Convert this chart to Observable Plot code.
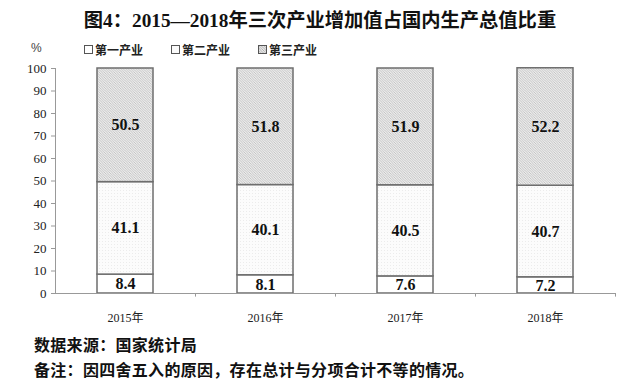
<!DOCTYPE html>
<html>
<head>
<meta charset="utf-8">
<script src="https://cdn.jsdelivr.net/npm/d3@7"></script>
<script src="https://cdn.jsdelivr.net/npm/@observablehq/plot@0.6"></script>
<style>
  html, body { margin: 0; padding: 0; background: #fff; width: 626px; height: 391px; overflow: hidden; }
  #title { height: 40px; line-height: 42px; text-align: center; font-family: "Liberation Serif", "Noto Sans CJK SC", serif; font-weight: bold; font-size: 19.3px; color: #111; padding-left: 14px; }
  #legend { position: relative; height: 18px; font-family: "Noto Sans CJK SC", sans-serif; font-size: 12px; color: #222; }
  #legend .pct { position: absolute; left: 31px; top: 1px; font-family: "Liberation Sans", sans-serif; color: #444; }
  #legend .item { position: absolute; top: 1px; display: flex; align-items: center; font-weight: bold; }
  #caption { margin-top: 4px; padding-left: 34px; font-family: "Noto Sans CJK SC", sans-serif; font-weight: bold; font-size: 16px; letter-spacing: 0.3px; line-height: 25px; color: #111; }
  svg [aria-label="y-axis tick"], svg [aria-label="x-axis tick"] { stroke: #999; }
</style>
</head>
<body>
<div id="title"></div>
<div id="legend"></div>
<div id="chart"></div>
<div id="caption"></div>
<script>
const titleText = "图4：2015—2018年三次产业增加值占国内生产总值比重";
const unitLabel = "%";
const years = ["2015年", "2016年", "2017年", "2018年"];
const sectors = ["第一产业", "第二产业", "第三产业"];
const primary = [8.4, 8.1, 7.6, 7.2];
const secondary = [41.1, 40.1, 40.5, 40.7];
const tertiary = [50.5, 51.8, 51.9, 52.2];
const yTicks = [0, 10, 20, 30, 40, 50, 60, 70, 80, 90, 100];
const captionLines = ["数据来源：国家统计局", "备注：因四舍五入的原因，存在总计与分项合计不等的情况。"];

const fills = {"第一产业": "#ffffff", "第二产业": "url(#dots)", "第三产业": "url(#hatch)"};
const seriesValues = [primary, secondary, tertiary];
const data = years.flatMap((year, i) => sectors.map((sector, j) => ({year, sector, value: seriesValues[j][i]})));

document.getElementById("title").textContent = titleText;

const legend = document.getElementById("legend");
const pct = document.createElement("span");
pct.className = "pct"; pct.textContent = unitLabel;
legend.appendChild(pct);
const legendX = [84, 171, 258];
sectors.forEach((s, j) => {
  const it = document.createElement("span");
  it.className = "item";
  it.style.left = legendX[j] + "px";
  const sw = document.createElementNS("http://www.w3.org/2000/svg", "svg");
  sw.setAttribute("width", 9); sw.setAttribute("height", 9);
  sw.style.marginRight = "2px";
  sw.innerHTML = `<defs><pattern id="lh${j}" patternUnits="userSpaceOnUse" width="2.5" height="2.5"><rect width="3" height="3" fill="#eaeaea"/><path d="M-1,-1L3.5,3.5" stroke="#9a9a9a" stroke-width="0.7"/></pattern></defs><rect x="0.5" y="0.5" width="8" height="8" fill="${j === 2 ? `url(#lh${j})` : (j === 1 ? "#fafafa" : "#fff")}" stroke="#555"/>`;
  it.appendChild(sw);
  const t = document.createElement("span");
  t.textContent = s;
  it.appendChild(t);
  legend.appendChild(it);
});

const plot = Plot.plot({
  width: 626,
  height: 270,
  marginTop: 10,
  marginBottom: 35,
  marginLeft: 55,
  marginRight: 11,
  style: {fontFamily: "'Liberation Serif', 'Noto Sans CJK SC', serif", fontSize: "13px", color: "#222", background: "white", overflow: "visible"},
  x: {domain: years, paddingInner: 0.6, paddingOuter: 0.3, label: null},
  y: {domain: [0, 100], ticks: yTicks, label: null},
  color: {type: "identity"},
  marks: [
    Plot.barY(data, Plot.stackY({x: "year", y: "value", fill: d => fills[d.sector], stroke: "#6e6e6e", strokeWidth: 1.5})),
    Plot.text(data, Plot.stackY({x: "year", y: "value", text: d => d.value.toFixed(1), fontWeight: "bold", fontSize: 16, fill: "#111"})),
    Plot.ruleY([0], {stroke: "#999"}),
    Plot.ruleX([years[0]], {dx: -70, y1: 0, y2: 100, stroke: "#999"}),
    Plot.ruleX(years, {x: d => d, dx: 70, y1: 0, y2: -1.6, stroke: "#999"}),
    Plot.axisY({ticks: yTicks, tickSize: 4, tickPadding: 5, fontSize: 13}),
    Plot.axisX({tickSize: 0, tickPadding: 20, fontSize: 12})
  ]
});

const defs = d3.select(plot).insert("defs", ":first-child");
const hatch = defs.append("pattern").attr("id", "hatch").attr("patternUnits", "userSpaceOnUse").attr("width", 2.5).attr("height", 2.5);
hatch.append("rect").attr("width", 3).attr("height", 3).attr("fill", "#ececec");
hatch.append("path").attr("d", "M-1,-1L3.5,3.5").attr("stroke", "#b4b4b4").attr("stroke-width", 0.7);
const dots = defs.append("pattern").attr("id", "dots").attr("patternUnits", "userSpaceOnUse").attr("width", 3).attr("height", 3);
dots.append("rect").attr("width", 3).attr("height", 3).attr("fill", "#fcfcfc");
dots.append("rect").attr("width", 1).attr("height", 1).attr("fill", "#ececec");

document.getElementById("chart").appendChild(plot);

const cap = document.getElementById("caption");
captionLines.forEach(l => { const d = document.createElement("div"); d.textContent = l; cap.appendChild(d); });
</script>
</body>
</html>
